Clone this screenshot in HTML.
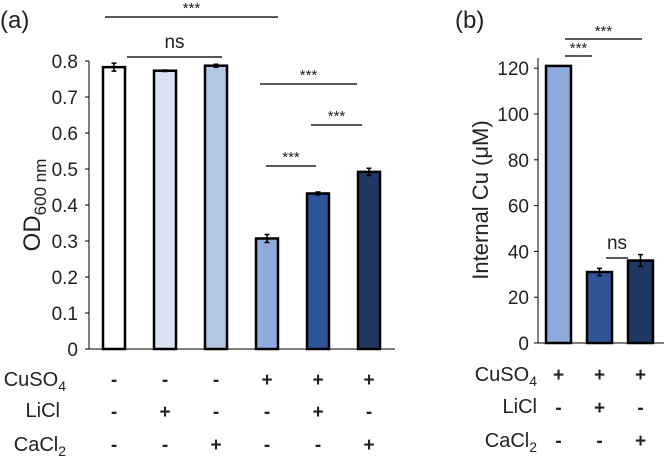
<!DOCTYPE html>
<html><head><meta charset="utf-8"><style>
body{margin:0;background:#fff}
svg{display:block;font-family:"Liberation Sans",sans-serif}
</style></head><body>
<svg id="c" width="664" height="467"></svg>
<script>
const aCats=["1","2","3","4","5","6"];
const aVals=[0.783,0.773,0.787,0.307,0.432,0.492];
const aErr=[0.011,0.002,0.004,0.011,0.004,0.01];
const aTicks=[0,0.1,0.2,0.3,0.4,0.5,0.6,0.7,0.8];
const bVals=[121,31,36];
const bErr=[0,1.6,2.6];
const bTicks=[0,20,40,60,80,100,120];
const aCuSO4=["-","-","-","+","+","+"],aLiCl=["-","+","-","-","+","-"],aCaCl=["-","-","+","-","-","+"];
const bCuSO4=["+","+","+"],bLiCl=["-","+","-"],bCaCl=["-","-","+"];
const aCol=["#ffffff","#dae3f3","#b4c7e7","#8faadc","#2f5597","#203864"];
const bCol=["#8faadc","#2f5597","#203864"];
const S=document.getElementById('c'),NS="http://www.w3.org/2000/svg";
function el(t,a,txt){const e=document.createElementNS(NS,t);for(const k in a)e.setAttribute(k,a[k]);if(txt!==undefined)e.textContent=txt;S.appendChild(e);return e;}
const ya=v=>349-v*360, xa=i=>114+i*51;
const yb=v=>343-v*2.29, xb=i=>558.5+i*41;
let e=el('line',{x1:89,y1:61,x2:89,y2:349,stroke:'#000','stroke-width':1});

e=el('line',{x1:89,y1:349,x2:395,y2:349,stroke:'#000','stroke-width':1});

aTicks.forEach(t=>{e=el('text',{x:78,y:ya(t)+7,'text-anchor':'end','font-size':19,fill:'#222'},String(t));

el('line',{x1:85,y1:ya(t),x2:89,y2:ya(t),stroke:'#000'});});
aVals.forEach((v,i)=>{e=el('rect',{x:xa(i)-11,y:ya(v),width:22,height:349-ya(v),fill:aCol[i],stroke:'#000','stroke-width':2.5});

const t=ya(v+aErr[i]),b=ya(v-aErr[i]);
el('path',{d:`M${xa(i)} ${t}V${b}M${xa(i)-2.5} ${t}H${xa(i)+2.5}M${xa(i)-2.5} ${b}H${xa(i)+2.5}`,stroke:'#000','stroke-width':1.5,fill:'none'});});
e=el('text',{x:0,y:0,transform:'translate(40,205) rotate(-90)','text-anchor':'middle','font-size':24,fill:'#222'});
e.innerHTML='OD<tspan font-size="17" dy="6">600 nm</tspan>';

e=el('text',{x:0,y:28,'font-size':24,fill:'#222'},'(a)');
[[105,278,17,'***'],[127,222,57,'ns'],[260,357,84,'***'],[311,362,125,'***'],[266,316,166,'***']].forEach(s=>{
el('line',{x1:s[0],y1:s[2],x2:s[1],y2:s[2],stroke:'#222','stroke-width':1.5});
e=el('text',{x:(s[0]+s[1])/2,y:s[3]=='ns'?s[2]-9:s[2]-4,'text-anchor':'middle','font-size':s[3]=='ns'?19:15,fill:'#222'},s[3]);
});
const rowY=[386,418,451];
function lab(x,y,html,nm){const t=el('text',{x:x,y:y,'font-size':20,fill:'#222','text-anchor':'end'});t.innerHTML=html;}
lab(66,rowY[0],'CuSO<tspan font-size="14" dy="5">4</tspan>','a-cuso4-label');
lab(60,rowY[1]-1,'LiCl','a-licl-label');
lab(66,rowY[2],'CaCl<tspan font-size="14" dy="5">2</tspan>','a-cacl2-label');
[aCuSO4,aLiCl,aCaCl].forEach((r,j)=>r.forEach((s,i)=>{e=el('text',{x:xa(i),y:rowY[j],'text-anchor':'middle','font-size':19,'font-weight':'bold',fill:'#222'},s);
}));
e=el('line',{x1:538,y1:58,x2:538,y2:343,stroke:'#000'});
e=el('line',{x1:538,y1:343,x2:664,y2:343,stroke:'#000'});
bTicks.forEach(t=>{e=el('text',{x:529,y:yb(t)+7,'text-anchor':'end','font-size':19,fill:'#222'},String(t));

el('line',{x1:534,y1:yb(t),x2:538,y2:yb(t),stroke:'#000'});});
bVals.forEach((v,i)=>{e=el('rect',{x:xb(i)-12.5,y:yb(v),width:25,height:343-yb(v),fill:bCol[i],stroke:'#000','stroke-width':2.5});

if(bErr[i]){const t=yb(v+bErr[i]),b=yb(v-bErr[i]);
el('path',{d:`M${xb(i)} ${t}V${b}M${xb(i)-2.5} ${t}H${xb(i)+2.5}M${xb(i)-2.5} ${b}H${xb(i)+2.5}`,stroke:'#000','stroke-width':1.5,fill:'none'});}});
e=el('text',{x:0,y:0,transform:'translate(488,200) rotate(-90)','text-anchor':'middle','font-size':22,fill:'#222'},'Internal Cu (μM)');

e=el('text',{x:455,y:28,'font-size':24,fill:'#222'},'(b)');
[[565,642,39,'***'],[565,592,56,'***'],[606,628,258,'ns']].forEach(s=>{
el('line',{x1:s[0],y1:s[2],x2:s[1],y2:s[2],stroke:'#222','stroke-width':1.5});
e=el('text',{x:(s[0]+s[1])/2,y:s[3]=='ns'?s[2]-9:s[2]-3,'text-anchor':'middle','font-size':s[3]=='ns'?19:15,fill:'#222'},s[3]);
});
const rowB=[381,414,447];
function labB(x,y,html,nm){const t=el('text',{x:x,y:y,'font-size':20,fill:'#222','text-anchor':'end'});t.innerHTML=html;}
labB(537,rowB[0],'CuSO<tspan font-size="14" dy="5">4</tspan>','b-cuso4-label');
labB(537,rowB[1]-1,'LiCl','b-licl-label');
labB(537,rowB[2],'CaCl<tspan font-size="14" dy="5">2</tspan>','b-cacl2-label');
[bCuSO4,bLiCl,bCaCl].forEach((r,j)=>r.forEach((s,i)=>{e=el('text',{x:xb(i),y:rowB[j],'text-anchor':'middle','font-size':19,'font-weight':'bold',fill:'#222'},s);
}));
</script>
</body></html>
